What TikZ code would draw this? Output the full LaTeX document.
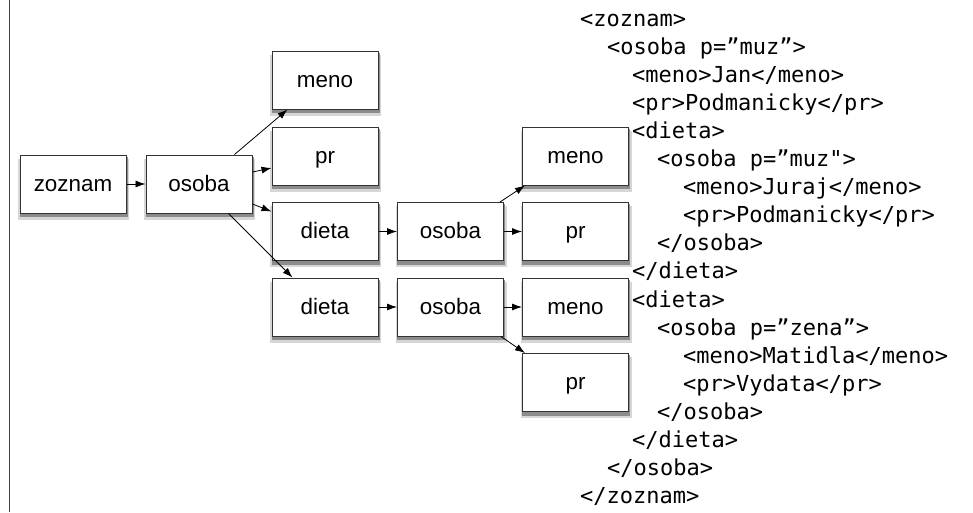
\documentclass[tikz,border=0pt]{standalone}
\usepackage{fontspec}
\setmainfont{Liberation Sans}
\setmonofont{DejaVu Sans Mono}
\usetikzlibrary{backgrounds,arrows.meta,calc}
\begin{document}
\begin{tikzpicture}[x=1pt,y=-1pt,
  box/.style={draw=black!80, line width=1pt, fill=white,
    minimum width=106pt, minimum height=58pt, inner sep=0pt,
    font=\fontsize{22.4}{26}\selectfont, text height=15pt, text depth=0.4pt},
  shadeA/.style={fill=black!16, draw=none},
  shadeB/.style={fill=black!45, draw=none},
  arr/.style={-{Latex[length=10pt,width=7pt]}, line width=0.8pt},
  code/.style={anchor=base west, inner sep=0pt, font=\ttfamily\fontsize{22}{26}\selectfont}]
\useasboundingbox (0,0) rectangle (973,512);
\draw[line width=1.5pt, black!75] (9.5,0) -- (9.5,512);

% boxes
\node[box] (z)  at (73,184)    {zoznam};
\node[box] (o1) at (199,184)   {osoba};
\node[box] (m1) at (325,80)    {meno};
\node[box] (p1) at (325,156)   {pr};
\node[box] (d1) at (325,231.5) {dieta};
\node[box] (d2) at (325,307)   {dieta};
\node[box] (o2) at (450.5,231.5) {osoba};
\node[box] (o3) at (450.5,307)   {osoba};
\node[box] (m2) at (575.5,156)   {meno};
\node[box] (p2) at (575.5,231.5) {pr};
\node[box] (m3) at (575.5,307)   {meno};
\node[box] (p3) at (575.5,382.5) {pr};

% shadows
\begin{scope}[on background layer]
\foreach \n in {z,o1,m1,p1,d1,d2,o2,o3,m2,p2,m3,p3}{
  \fill[shadeA] ($(\n.north west)+(-1.5,4)$) rectangle ($(\n.south east)+(2.5,6)$);
  \fill[shadeB] ($(\n.north west)+(0,2)$) rectangle ($(\n.south east)+(1.2,3.5)$);
}
\end{scope}

% connectors
\draw[arr] (z) -- (o1);
\draw[arr] ($(o1.north west)+(89,0)$) -- ($(m1.south west)+(16,0)$);
\draw[arr] ($(o1.east)+(0,-12)$) -- ($(p1.west)+(0,12)$);
\draw[arr] ($(o1.east)+(0,20)$) -- ($(d1.west)+(0,-20)$);
\draw[arr] ($(o1.south west)+(83,0)$) -- ($(d2.north west)+(21,0)$);
\draw[arr] (d1) -- (o2);
\draw[arr] ($(o2.north east)+(-4,0)$) -- ($(m2.south west)+(3,0)$);
\draw[arr] (o2) -- (p2);
\draw[arr] (d2) -- (o3);
\draw[arr] (o3) -- (m3);
\draw[arr] ($(o3.south east)+(-3,0)$) -- ($(p3.north west)+(3,0)$);

% code
\node[code] (c0)  at (580,26.0)  {<zoznam>};
\node[code] (c1)  at (607,54.1)  {<osoba p=”muz”>};
\node[code] (c2)  at (632,82.2)  {<meno>Jan</meno>};
\node[code] (c3)  at (632,110.3) {<pr>Podmanicky</pr>};
\node[code] (c4)  at (632,138.4) {<dieta>};
\node[code] (c5)  at (657,166.5) {<osoba p=”muz">};
\node[code] (c6)  at (683,194.6) {<meno>Juraj</meno>};
\node[code] (c7)  at (683,222.7) {<pr>Podmanicky</pr>};
\node[code] (c8)  at (657,250.8) {</osoba>};
\node[code] (c9)  at (632,278.9) {</dieta>};
\node[code] (c10) at (632,307.0) {<dieta>};
\node[code] (c11) at (657,335.1) {<osoba p=”zena”>};
\node[code] (c12) at (683,363.2) {<meno>Matidla</meno>};
\node[code] (c13) at (683,391.3) {<pr>Vydata</pr>};
\node[code] (c14) at (657,419.4) {</osoba>};
\node[code] (c15) at (632,447.5) {</dieta>};
\node[code] (c16) at (607,475.6) {</osoba>};
\node[code] (c17) at (580,503.7) {</zoznam>};
\end{tikzpicture}
\end{document}
